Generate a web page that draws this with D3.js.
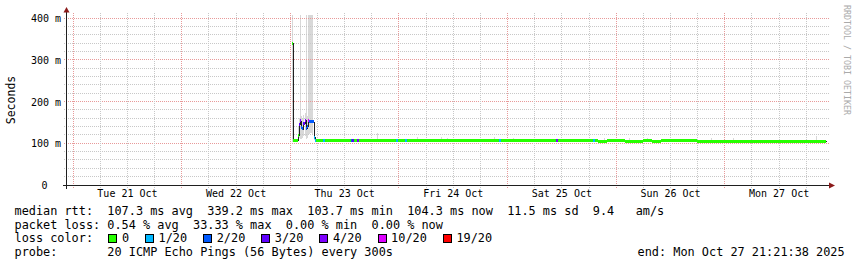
<!DOCTYPE html>
<html><head><meta charset="utf-8">
<script src="https://cdn.jsdelivr.net/npm/d3@7/dist/d3.min.js"></script>
<style>
html,body{margin:0;padding:0;background:#fff;}
svg{display:block;}
text{font-family:"DejaVu Sans Mono",monospace;}
</style></head><body>
<svg id="c" width="857" height="267"></svg>
<script>
// ---------------- data ----------------
const yTicks = [0, 100, 200, 300, 400];
const yTickLabels = ["0", "100 m", "200 m", "300 m", "400 m"];
const dayNoons = ["2025-10-21 12:00","2025-10-22 12:00","2025-10-23 12:00","2025-10-24 12:00","2025-10-25 12:00","2025-10-26 12:00","2025-10-27 12:00"];
const dayLabels = ["Tue 21 Oct","Wed 22 Oct","Thu 23 Oct","Fri 24 Oct","Sat 25 Oct","Sun 26 Oct","Mon 27 Oct"];
const viewStart = "2025-10-20 22:45";
const viewEnd = "2025-10-27 23:15";
const dataEnd = "2025-10-27 22:25";

// median rtt (ms) per step, with loss count (out of 20)
const medianTimes = [
 "2025-10-23 00:30","2025-10-23 00:45","2025-10-23 01:45","2025-10-23 02:00","2025-10-23 02:15",
 "2025-10-23 02:30","2025-10-23 02:45","2025-10-23 03:00","2025-10-23 03:15","2025-10-23 03:30",
 "2025-10-23 03:45","2025-10-23 04:00","2025-10-23 04:15","2025-10-23 04:30","2025-10-23 04:45",
 "2025-10-23 05:00","2025-10-23 05:15","2025-10-23 05:30","2025-10-23 05:45",
 "2025-10-23 06:00","2025-10-23 08:00","2025-10-23 10:00","2025-10-23 12:00","2025-10-23 14:00",
 "2025-10-23 16:00","2025-10-23 18:00","2025-10-23 20:00","2025-10-23 22:00",
 "2025-10-24 00:00","2025-10-24 02:00","2025-10-24 04:00","2025-10-24 06:00","2025-10-24 08:00",
 "2025-10-24 10:00","2025-10-24 12:00","2025-10-24 14:00","2025-10-24 16:00","2025-10-24 18:00",
 "2025-10-24 20:00","2025-10-24 22:00",
 "2025-10-25 00:00","2025-10-25 02:00","2025-10-25 04:00","2025-10-25 06:00","2025-10-25 08:00",
 "2025-10-25 10:00","2025-10-25 12:00","2025-10-25 14:00","2025-10-25 16:00","2025-10-25 18:00",
 "2025-10-25 20:00","2025-10-25 22:00",
 "2025-10-26 00:00","2025-10-26 02:00","2025-10-26 04:00","2025-10-26 06:00","2025-10-26 08:00",
 "2025-10-26 10:00","2025-10-26 12:00","2025-10-26 14:00","2025-10-26 16:00","2025-10-26 18:00",
 "2025-10-26 20:00","2025-10-26 22:00",
 "2025-10-27 00:00","2025-10-27 02:00","2025-10-27 04:00","2025-10-27 06:00","2025-10-27 08:00",
 "2025-10-27 10:00","2025-10-27 12:00","2025-10-27 14:00","2025-10-27 16:00","2025-10-27 18:00",
 "2025-10-27 20:00","2025-10-27 22:00"
];
const medianValues = [
 339.2,106.8,120,145,154,
 138,135,148,155,137,
 141,155,152,152,152,
 152,114,107,106.8,
 106.6,106.6,106.6,106.6,106.8,
 106.6,106.6,106.6,106.6,
 106.6,106.6,106.4,106.6,106.6,
 106.6,106.4,106.6,106.6,106.6,
 106.4,106.6,
 106.4,106.6,106.6,106.4,106.6,
 106.4,106.4,106.6,106.4,106.4,
 104.8,106.4,
 106.4,104.6,104.4,106.4,104.4,
 106.4,106.4,106.4,106.4,104.4,
 104.4,104.4,
 104.4,104.4,104.2,104.4,104.4,
 104.2,104.4,104.4,104.4,104.2,
 104.3,104.3
];
const medianLoss = [
 0,0,0,3,4,
 2,2,3,4,2,
 2,10,2,2,2,
 2,1,1,0,
 0,0,0,0,0,0,0,0,0,
 0,0,0,0,0,0,0,0,0,0,0,0,
 0,0,0,0,0,0,0,0,0,0,0,0,
 0,0,0,0,0,0,0,0,0,0,0,0,
 0,0,0,0,0,0,0,0,0,0,0,0
];

// isolated loss spots on the flat part
const lossEventTimes = ["2025-10-23 07:15","2025-10-23 13:30","2025-10-23 13:45","2025-10-23 14:45","2025-10-23 23:30","2025-10-24 01:30","2025-10-24 22:15","2025-10-25 10:45","2025-10-25 19:00"];
const lossEventCounts = [1,2,3,4,1,1,1,4,1];

// smoke (ping spread) min / max in ms
const smokeTimes = [
 "2025-10-23 00:30","2025-10-23 01:45","2025-10-23 02:00","2025-10-23 02:15","2025-10-23 02:30",
 "2025-10-23 02:45","2025-10-23 03:00","2025-10-23 03:15","2025-10-23 03:30","2025-10-23 03:45",
 "2025-10-23 04:00","2025-10-23 04:15","2025-10-23 04:30","2025-10-23 04:45","2025-10-23 05:00",
 "2025-10-23 05:15",
 "2025-10-23 19:15","2025-10-24 04:00","2025-10-24 09:30","2025-10-24 10:45","2025-10-24 21:00",
 "2025-10-25 01:15","2025-10-25 21:30","2025-10-26 03:00","2025-10-26 07:00","2025-10-26 12:15",
 "2025-10-26 21:00","2025-10-27 02:00","2025-10-27 20:15"
];
const smokeLow = [
 105,108,112,112,110,
 112,118,118,112,112,
 120,122,125,125,120,
 108,
 106,106,106,106,106,
 106,105,105,105,105,
 105,105,105
];
const smokeHigh = [
 408,140,160,408,165,
 160,168,172,408,165,
 408,408,408,408,408,
 150,
 125,115,115,113,114,
 113,112,113,112,111,
 113,112,117
];

const lossLabels = ["0","1/20","2/20","3/20","4/20","10/20","19/20"];
const lossThresholds = [1,2,3,4,10,19];
const lossColors = ["#26ff00","#00b8ff","#0059ff","#5e00ff","#7e00ff","#dd00ff","#ff0000"];

const statLines = [
 "median rtt:  107.3 ms avg  339.2 ms max  103.7 ms min  104.3 ms now  11.5 ms sd  9.4   am/s",
 "packet loss: 0.54 % avg  33.33 % max  0.00 % min  0.00 % now"
];
const lossTitle = "loss color:";
const probeLine = "probe:       20 ICMP Echo Pings (56 Bytes) every 300s";
const endLine = "end: Mon Oct 27 21:21:38 2025";
const yTitle = "Seconds";
const watermark = "RRDTOOL / TOBI OETIKER";

// ---------------- drawing ----------------
const parse = d3.timeParse("%Y-%m-%d %H:%M");
const nb = s => s.replace(/ /g, "\u00a0");
const svg = d3.select("#c");
const x = d3.scaleTime().domain([parse(viewStart), parse(viewEnd)]).range([67, 829.5]);
const y = d3.scaleLinear().domain([0, 408]).range([185, 185 - 408 * 0.4175]);
const lossColor = d3.scaleThreshold().domain(lossThresholds).range(lossColors);
const px = v => Math.round(v) + 0.5;

const mt = medianTimes.map(parse);
const endT = parse(dataEnd);

// smoke
const step = 15 * 60 * 1000;
svg.append("g").selectAll("rect").data(smokeTimes).join("rect")
  .attr("x", d => Math.round(x(parse(d))))
  .attr("width", d => Math.max(1, Math.round(x(new Date(+parse(d) + step)) - x(parse(d)))))
  .attr("y", (d, i) => Math.round(y(smokeHigh[i])))
  .attr("height", (d, i) => Math.max(1, Math.round(y(smokeLow[i]) - y(smokeHigh[i]))))
  .attr("fill", "#d8d8d8")
  .attr("shape-rendering", "crispEdges");

// grid
const grid = svg.append("g").attr("shape-rendering", "crispEdges");
const hTicks = y.ticks(20).filter(v => v <= 400);
grid.selectAll("line.h").data(hTicks.filter(v => v > 0)).join("line")
  .attr("x1", 64).attr("x2", 829)
  .attr("y1", d => px(y(d) - 0.5)).attr("y2", d => px(y(d) - 0.5))
  .attr("stroke", d => d % 100 === 0 ? "#e89a9a" : "#c8c8c8")
  .attr("stroke-dasharray", "1,1");
const vTicks = d3.timeHour.every(6).range(x.domain()[0], x.domain()[1]);
grid.selectAll("line.v").data(vTicks).join("line")
  .attr("x1", d => px(x(d))).attr("x2", d => px(x(d)))
  .attr("y1", 13).attr("y2", 188)
  .attr("stroke", d => d.getHours() === 0 ? "#e89a9a" : "#c8c8c8")
  .attr("stroke-dasharray", "1,1");

// median line (black)
const pts = mt.map((t, i) => [t, medianValues[i]]);
pts.push([endT, medianValues[medianValues.length - 1]]);
svg.append("path")
  .attr("d", d3.line().x(d => px(x(d[0]))).y(d => px(y(d[1]))).curve(d3.curveStepAfter)(pts))
  .attr("fill", "none").attr("stroke", "#202020").attr("stroke-width", 1)
  .attr("shape-rendering", "crispEdges");

// loss-coloured band around median
const band = svg.append("g").attr("shape-rendering", "crispEdges");
band.selectAll("rect").data(mt).join("rect")
  .attr("x", d => Math.round(x(d)))
  .attr("width", (d, i) => Math.max(1, Math.round(x(i + 1 < mt.length ? mt[i + 1] : endT)) - Math.round(x(d))))
  .attr("y", (d, i) => Math.round(y(medianValues[i]) - 1.3))
  .attr("height", 3)
  .attr("fill", (d, i) => lossColor(medianLoss[i]));

// isolated loss events
const bis = d3.bisector(d => d).right;
band.selectAll("rect.ev").data(lossEventTimes).join("rect")
  .attr("x", d => Math.round(x(parse(d))))
  .attr("width", 2)
  .attr("y", d => { const k = Math.max(0, bis(mt, parse(d)) - 1); return Math.round(y(medianValues[k]) - 1.3); })
  .attr("height", 3)
  .attr("fill", (d, i) => lossColor(lossEventCounts[i]));

// axes lines
const ax = svg.append("g").attr("shape-rendering", "crispEdges");
ax.append("line").attr("x1", 63).attr("x2", 831).attr("y1", 185.5).attr("y2", 185.5).attr("stroke", "#1f1f1f");
ax.append("line").attr("x1", 66.5).attr("x2", 66.5).attr("y1", 10).attr("y2", 189).attr("stroke", "#1f1f1f");
svg.append("path").attr("d", "M63.5,12.5 L66.5,7 L69.5,12.5 Z").attr("fill", "#8b1a1a");
svg.append("path").attr("d", "M829,182.5 L835,185.5 L829,188.5 Z").attr("fill", "#8b1a1a");

// x labels
const xa = svg.append("g").attr("transform", "translate(0,188)")
  .call(d3.axisBottom(x).tickValues(dayNoons.map(parse)).tickFormat((d, i) => nb(dayLabels[i])).tickSize(0).tickPadding(0));
xa.select(".domain").remove();
xa.selectAll("text").attr("font-family", "DejaVu Sans Mono").attr("font-size", "10px").attr("fill", "#000").attr("dy", "0.9em");

// y labels
const ya = svg.append("g").attr("transform", "translate(61,0)")
  .call(d3.axisLeft(y).tickValues(yTicks).tickFormat((d, i) => nb(yTickLabels[i])).tickSize(0).tickPadding(0));
ya.select(".domain").remove();
ya.selectAll("text").attr("font-family", "DejaVu Sans Mono").attr("font-size", "10px").attr("fill", "#000")
  .attr("x", d => d === 0 ? -13.5 : 0).attr("dy", "0.36em");

// y title
svg.append("text").attr("transform", "translate(15,100) rotate(-90)").attr("text-anchor", "middle")
  .attr("font-size", "11.5px").attr("fill", "#000").text(yTitle);

// watermark
svg.append("text").attr("transform", "translate(844,5) rotate(90)").attr("text-anchor", "start")
  .attr("font-size", "8.3px").attr("fill", "#aaaaaa").text(nb(watermark));

// legend
const fs = 11.86, cw = fs * 0.6021, lx = 14.5;
const leg = svg.append("g").attr("font-size", fs + "px").attr("fill", "#000");
statLines.forEach((s, i) => leg.append("text").attr("x", lx).attr("y", 215 + i * 13.7).text(nb(s)));
leg.append("text").attr("x", lx).attr("y", 242.4).text(nb(lossTitle));
let bx = 108.3;
lossLabels.forEach((lab, i) => {
  leg.append("rect").attr("x", Math.round(bx) + 0.5).attr("y", 234.5).attr("width", 8).attr("height", 8)
    .attr("fill", lossColors[i]).attr("stroke", "#000").attr("stroke-width", 1);
  leg.append("text").attr("x", bx + 13.6).attr("y", 242.4).text(lab);
  bx += (4 + lab.length) * cw + 1;
});
leg.append("text").attr("x", lx).attr("y", 256).text(nb(probeLine));
leg.append("text").attr("x", 637.6).attr("y", 256).text(nb(endLine));
</script>
</body></html>
